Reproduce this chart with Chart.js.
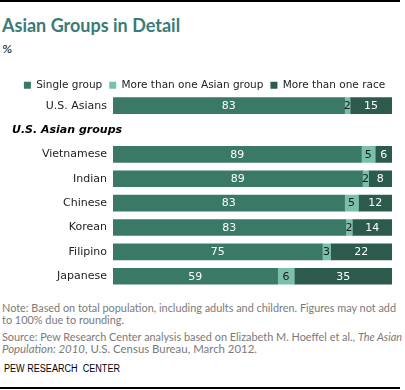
<!DOCTYPE html>
<html>
<head>
<meta charset="utf-8">
<script src="https://cdn.jsdelivr.net/npm/chart.js@4"></script>
<style>
  body { margin: 0; width: 405px; height: 390px; position: relative; background: #fff; overflow: hidden; }
  .rule { position: absolute; left: 0; width: 400px; height: 2px; background: #000; }
  .title { position: absolute; left: 2px; top: 15px; font: bold 18px Lato, sans-serif; color: #3b7b76; line-height: 20px; white-space: nowrap; }
  .unit { position: absolute; left: 2px; top: 43px; font: italic 11px "DejaVu Sans", sans-serif; color: #000; }
  .line { position: absolute; left: 2px; font: 11px Lato, sans-serif; color: #7a7a7a; line-height: 12px; white-space: nowrap; transform-origin: left center; }
  .brand { position: absolute; left: 4px; top: 363px; font: 10px "Liberation Sans", sans-serif; color: #000; white-space: nowrap; transform-origin: left center; }
  #wrap { position: absolute; left: 0; top: 71px; width: 405px; height: 230px; }
</style>
</head>
<body>
<div class="rule" style="top:0px"></div>
<div class="title">Asian Groups in Detail</div>
<div class="unit">%</div>
<div id="wrap"><canvas id="asianChart" width="405" height="230"></canvas></div>
<div class="line" data-w="394" style="top:302px">Note: Based on total population, including adults and children. Figures may not add</div>
<div class="line" data-w="122" style="top:314px">to 100% due to rounding.</div>
<div class="line" data-w="400" style="top:331px">Source: Pew Research Center analysis based on Elizabeth M. Hoeffel et al., <i>The Asian</i></div>
<div class="line" data-w="255" style="top:343px"><i>Population: 2010</i>, U.S. Census Bureau, March 2012.</div>
<div class="brand" data-w="116">PEW RESEARCH&nbsp; CENTER</div>
<div class="rule" style="top:387px"></div>
<script>
const groups = ["U.S. Asians", "Vietnamese", "Indian", "Chinese", "Korean", "Filipino", "Japanese"];
const singleGroup = [83, 89, 89.4, 83, 83.4, 75, 59];
const multiAsian = [2, 5, 2.2, 5, 2.4, 3, 6];
const multiRace = [15, 6, 8.4, 12, 14.2, 22, 35];
const seriesNames = ["Single group", "More than one Asian group", "More than one race"];
const seriesColors = ["#3a7868", "#79bfaa", "#2c5b4e"];
const sectionTitle = "U.S. Asian groups";

// blank row after the total holds the section heading
const rows = [groups[0], ""].concat(groups.slice(1));
const withGap = arr => [arr[0], null].concat(arr.slice(1));

// squeeze the footnote lines to the widths of the original
document.querySelectorAll("[data-w]").forEach(el => {
    const w = el.getBoundingClientRect().width;
    el.style.transform = "scaleX(" + (el.dataset.w / w) + ")";
});

const valueLabels = {
    id: "valueLabels",
    afterDatasetsDraw(chart) {
        const ctx = chart.ctx;
        ctx.save();
        ctx.font = "11px 'DejaVu Sans'";
        ctx.textAlign = "center";
        ctx.textBaseline = "middle";
        chart.data.datasets.forEach((ds, i) => {
            const meta = chart.getDatasetMeta(i);
            meta.data.forEach((bar, j) => {
                const v = ds.data[j];
                if (v == null) return;
                ctx.fillStyle = i === 1 ? "#1c1c1c" : "#ffffff";
                ctx.fillText(Math.round(v), (bar.x + bar.base) / 2, bar.y + 0.5);
            });
        });
        ctx.restore();
    }
};

const sectionLabel = {
    id: "sectionLabel",
    afterDraw(chart) {
        const ctx = chart.ctx;
        ctx.save();
        ctx.font = "italic bold 11px 'DejaVu Sans'";
        ctx.fillStyle = "#000";
        ctx.textAlign = "left";
        ctx.textBaseline = "middle";
        ctx.fillText(sectionTitle, 12, chart.scales.y.getPixelForValue(1));
        ctx.restore();
    }
};

// one legend row, closer to the bars
const legendSpacing = {
    id: "legendSpacing",
    beforeInit(chart) {
        const fit = chart.legend.fit;
        chart.legend.fit = function () {
            this.maxWidth = 405;
            fit.bind(chart.legend)();
            this.height -= 5;
        };
    },
    afterLayout(chart) {
        chart.legend.left = 4;
        chart.legend.right = 405;
        chart.legend.top += 2;
    }
};

const ctx = document.getElementById("asianChart").getContext("2d");

new Chart(ctx, {
    type: "bar",
    data: {
        labels: rows,
        datasets: [singleGroup, multiAsian, multiRace].map((d, i) => ({
            label: seriesNames[i],
            data: withGap(d),
            backgroundColor: seriesColors[i],
            borderWidth: 0,
            barThickness: 16
        }))
    },
    options: {
        indexAxis: "y",
        responsive: false,
        animation: false,
        layout: {
            padding: { left: 21, right: 13, top: 0, bottom: 0 }
        },
        scales: {
            x: {
                stacked: true,
                min: 0,
                max: 100,
                display: false
            },
            y: {
                stacked: true,
                grid: { display: false, drawTicks: false },
                border: { display: false },
                ticks: {
                    color: "#222",
                    padding: 6,
                    font: { family: "DejaVu Sans", size: 11 }
                },
                afterFit(scale) {
                    scale.width = 92;
                }
            }
        },
        plugins: {
            legend: {
                position: "top",
                labels: {
                    boxWidth: 7,
                    boxHeight: 7,
                    padding: 7,
                    color: "#222",
                    font: { family: "DejaVu Sans", size: 10.5 }
                }
            },
            tooltip: { enabled: false }
        }
    },
    plugins: [valueLabels, sectionLabel, legendSpacing]
});
</script>
</body>
</html>
